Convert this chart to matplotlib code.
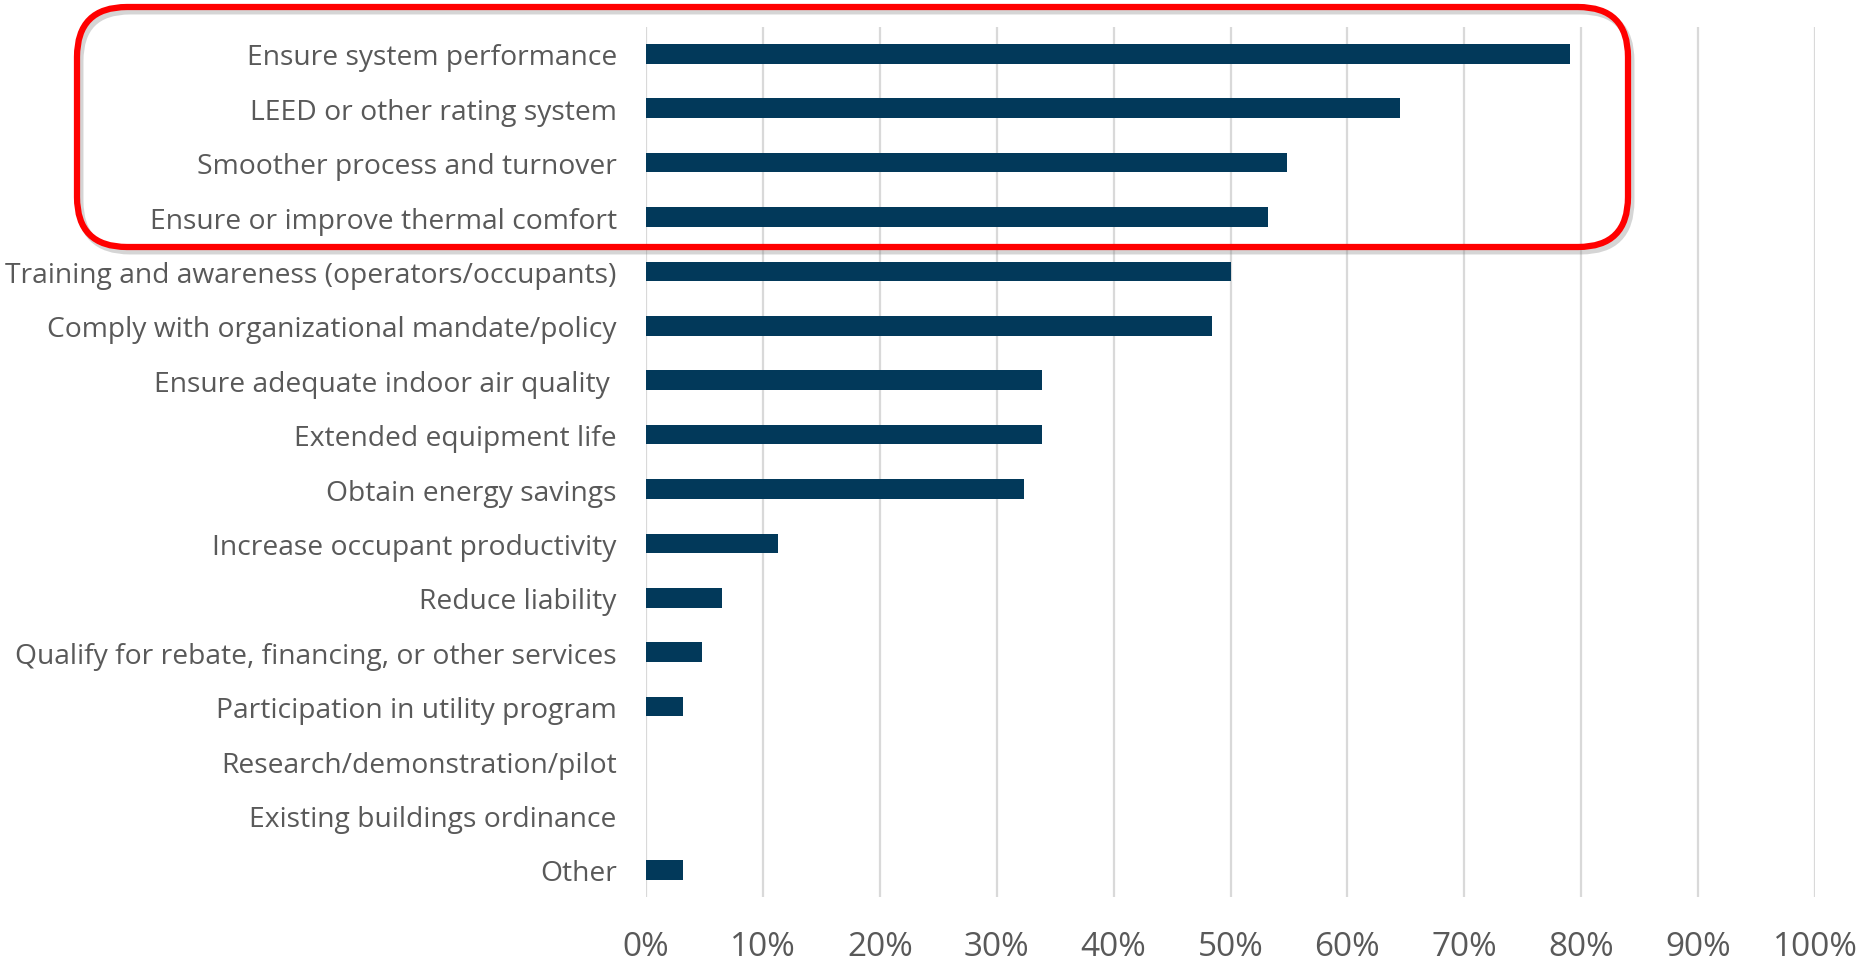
#!/usr/bin/env python3

# reasons for commissioning, share of respondents (horizontal bars).

import matplotlib
matplotlib.use('Agg')
from matplotlib import pyplot as plt
from matplotlib.patches import FancyBboxPatch
from matplotlib.transforms import IdentityTransform
from matplotlib.ticker import PercentFormatter

REASONS = [
    'Ensure system performance',
    'LEED or other rating system',
    'Smoother process and turnover',
    'Ensure or improve thermal comfort',
    'Training and awareness (operators/occupants)',
    'Comply with organizational mandate/policy',
    'Ensure adequate indoor air quality ',
    'Extended equipment life',
    'Obtain energy savings',
    'Increase occupant productivity',
    'Reduce liability',
    'Qualify for rebate, financing, or other services',
    'Participation in utility program',
    'Research/demonstration/pilot',
    'Existing buildings ordinance',
    'Other',
]
SHARE = [0.790, 0.645, 0.548, 0.532, 0.500, 0.484, 0.339, 0.339, 0.323,
         0.113, 0.065, 0.048, 0.032, 0.0, 0.0, 0.032]
X_TICKS = [i / 10 for i in range(11)]

BAR_COLOR = '#02395a'
TEXT_COLOR = '#595959'
GRID_COLOR = '#d9d9d9'

plt.rcParams['font.family'] = ['Open Sans', 'DejaVu Sans']

W, H = 1873, 962
fig = plt.figure(figsize=(W / 100, H / 100), dpi=100)
ax = fig.add_axes([646 / W, 1 - 898 / H, (1815 - 646) / W, (898 - 27.7) / H])

ypos = list(range(len(REASONS)))
ax.barh(ypos, SHARE, height=0.36, color=BAR_COLOR, edgecolor='none', zorder=3)
ax.set_yticks(ypos)
ax.set_yticklabels(REASONS)
ax.set_ylim(len(REASONS) - 0.5, -0.5)
ax.set_xlim(0, 1)
ax.set_xticks(X_TICKS)
ax.xaxis.set_major_formatter(PercentFormatter(1.0, decimals=0))

ax.grid(axis='x', color=GRID_COLOR, linewidth=1.6, zorder=0)
ax.set_axisbelow(True)
for s in ax.spines.values():
    s.set_visible(False)
ax.tick_params(axis='y', length=0, pad=21, labelsize=20.3, labelcolor=TEXT_COLOR)
ax.tick_params(axis='x', length=0, pad=24, labelsize=24, labelcolor=TEXT_COLOR)

# red highlight box round the top four reasons (pixel coords, origin bottom-left)
x0, x1 = 77, 1628
y_top, y_bot = 8, 248
shadow = FancyBboxPatch((x0 + 3, H - y_bot - 4), x1 - x0, y_bot - y_top,
                        boxstyle='round,pad=0,rounding_size=50',
                        transform=IdentityTransform(), fill=False,
                        edgecolor='#888888', alpha=0.35, linewidth=5)
box = FancyBboxPatch((x0, H - y_bot), x1 - x0, y_bot - y_top,
                     boxstyle='round,pad=0,rounding_size=50',
                     transform=IdentityTransform(), fill=False,
                     edgecolor='#ff0000', linewidth=4.5)
fig.patches.append(shadow)
fig.patches.append(box)

fig.savefig('out.png', dpi=100)
